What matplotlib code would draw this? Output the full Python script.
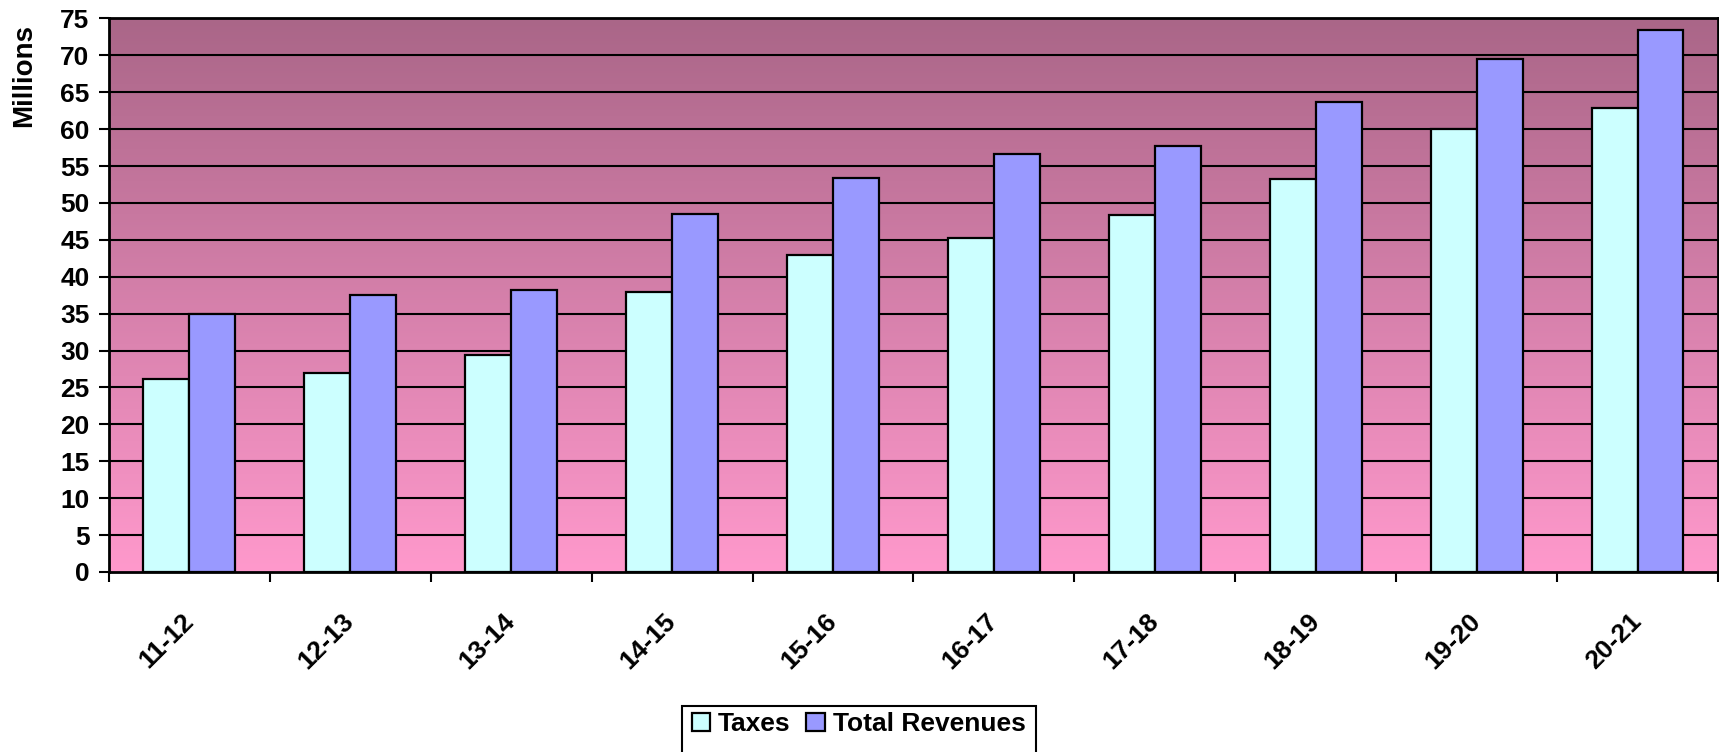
import matplotlib
matplotlib.use('Agg')
import matplotlib.pyplot as plt
import numpy as np
from matplotlib.colors import LinearSegmentedColormap
from matplotlib.patches import Patch, Rectangle

plt.rcParams['font.family'] = ['Liberation Sans', 'DejaVu Sans']
plt.rcParams['font.weight'] = 'bold'

# data (millions)
years = ['11-12', '12-13', '13-14', '14-15', '15-16',
         '16-17', '17-18', '18-19', '19-20', '20-21']
taxes = [26.1, 26.9, 29.4, 37.9, 43.0, 45.2, 48.3, 53.3, 60.0, 62.8]
total_revenues = [35.0, 37.5, 38.2, 48.5, 53.4, 56.6, 57.7, 63.7, 69.5, 73.4]
series_names = ['Taxes', 'Total Revenues']
yticks = list(range(0, 80, 5))

FS = 19

fig = plt.figure(figsize=(17.19, 7.52), dpi=100)
ax = fig.add_axes([0.0634, 0.2394, 0.9360, 0.7361])

x = np.arange(len(years))
w = 1 / 3.5

# gradient background, pink at the bottom to mauve at the top
bg = LinearSegmentedColormap.from_list('bg', ['#FF99CC', '#AA6688'])
grad = np.linspace(0, 1, 256)[:, np.newaxis]
ax.imshow(grad, cmap=bg, aspect='auto', origin='lower',
          extent=[-0.5, len(years) - 0.5, 0, 75], zorder=0)

for yv in yticks[1:]:
    ax.axhline(yv, color='black', lw=1.5, zorder=1)

ax.bar(x - w / 2, taxes, w, color='#CCFFFF', edgecolor='black', lw=1.6, zorder=2)
ax.bar(x + w / 2, total_revenues, w, color='#9999FF', edgecolor='black', lw=1.6, zorder=2)

ax.set_xlim(-0.5, len(years) - 0.5)
ax.set_ylim(0, 75)

ax.set_yticks(yticks)
ax.tick_params(axis='y', length=7, width=1.5, pad=7, labelsize=FS, direction='out')
for lab in ax.get_yticklabels():
    lab.set_fontweight('bold')

ax.set_xticks(x)
ax.set_xticklabels(years, rotation=45, ha='right', va='center',
                   rotation_mode='anchor', fontsize=FS, fontweight='bold')
ax.set_xticks(np.arange(-0.5, len(years)), minor=True)
ax.tick_params(axis='x', which='major', length=0, pad=33)
ax.tick_params(axis='x', which='minor', length=7, width=1.5, direction='out')

for s in ax.spines.values():
    s.set_linewidth(2)
    s.set_color('black')

fig.text(0.014, 0.899, 'Millions', rotation=90, ha='center', va='center',
         fontsize=20, fontweight='bold')

handles = [Patch(facecolor='#CCFFFF', edgecolor='black', lw=1.6),
           Patch(facecolor='#9999FF', edgecolor='black', lw=1.6)]
leg = fig.legend(handles, series_names, loc='lower center',
                 bbox_to_anchor=(0.4995, 0.012), ncol=2, fontsize=FS,
                 frameon=False, handlelength=0.7,
                 handleheight=0.7, handletextpad=0.3, columnspacing=0.6,
                 borderpad=0.25, borderaxespad=0)
for t in leg.get_texts():
    t.set_fontweight('bold')

# legend frame runs off the bottom of the image, as in the original
fig.canvas.draw()
bb = leg.get_window_extent().transformed(fig.transFigure.inverted())
fig.patches.append(Rectangle((bb.x0 - 0.002, -0.02), bb.width + 0.004,
                             bb.y1 + 0.02, transform=fig.transFigure,
                             fill=False, edgecolor='black', lw=1.5))

fig.savefig('out.png', dpi=100)
